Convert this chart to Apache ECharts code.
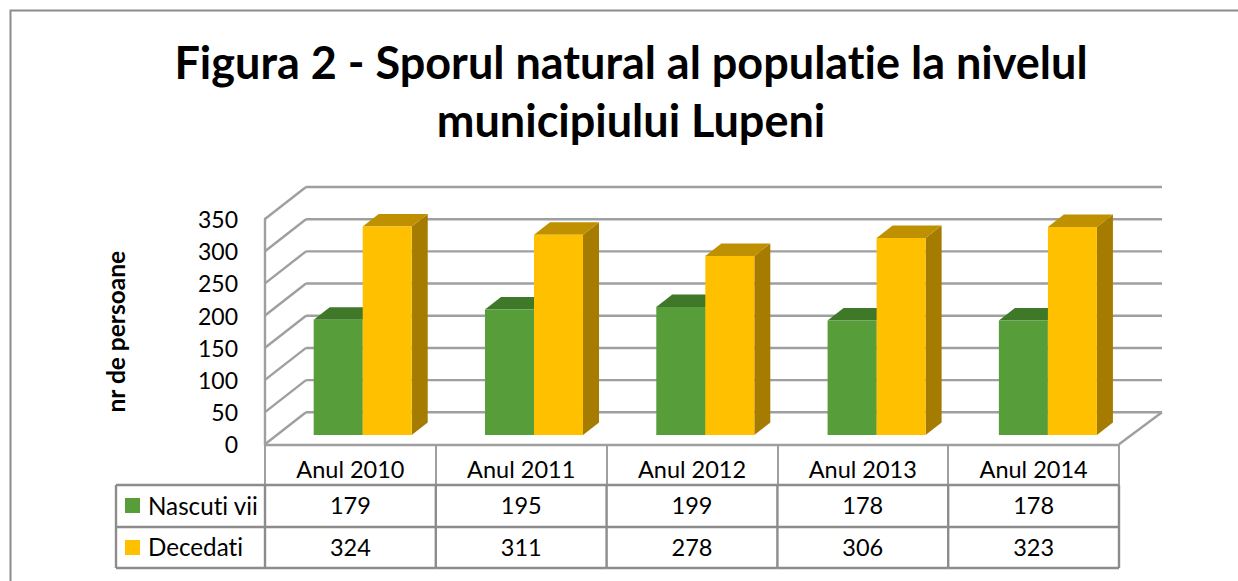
<!DOCTYPE html>
<html>
<head>
<meta charset="utf-8">
<style>
html, body { margin: 0; padding: 0; background: #fff; }
#main { width: 1238px; height: 581px; font-variant-ligatures: none; }
#main text { font-variant-ligatures: none; }
</style>
<script src="https://cdn.jsdelivr.net/npm/echarts@6/dist/echarts.min.js"></script>
</head>
<body>
<div id="main"></div>
<script>
var titlu = "Figura 2 - Sporul natural al populatie la nivelul\nmunicipiului Lupeni";
var ani = ["Anul 2010", "Anul 2011", "Anul 2012", "Anul 2013", "Anul 2014"];
var nascuti = [179, 195, 199, 178, 178];
var decedati = [324, 311, 278, 306, 323];
var yTicks = [0, 50, 100, 150, 200, 250, 300, 350];

var font = "Lato";
var gri = "#9f9f9f";
var griTabel = "#8c8c8c";

// adancimea peretilor si a barelor (pseudo 3D)
var wallDx = 41, wallDy = 32;
var barOffX = 12.3, barOffY = 9.3;
var barDx = 16, barDy = 12.5;
var barLat = 0.287; // din latimea categoriei

// randurile tabelului
var rowY = [485, 527, 568];
var tabelLeft = 116;

function barRender(culori, semn) {
  return function (params, api) {
    var band = api.size([1, 0])[0];
    var w = band * barLat;
    var top = api.coord([api.value(0), api.value(1)]);
    var bottom = api.coord([api.value(0), 0]);
    // barele sunt pe un plan putin mai lat decat axa
    var x0 = top[0] + barOffX + params.dataIndex * 0.5 + (semn < 0 ? -w : 0);
    var x1 = x0 + w;
    var y0 = top[1] - barOffY;
    var y1 = bottom[1] - barOffY;
    return {
      type: "group",
      children: [
        { type: "polygon", shape: { points: [[x1, y0], [x1 + barDx, y0 - barDy], [x1 + barDx, y1 - barDy], [x1, y1]] }, style: { fill: culori[2] } },
        { type: "polygon", shape: { points: [[x0, y0], [x0 + barDx, y0 - barDy], [x1 + barDx, y0 - barDy], [x1, y0]] }, style: { fill: culori[1] } },
        { type: "rect", shape: { x: x0, y: y0, width: w, height: y1 - y0 }, style: { fill: culori[0] } }
      ]
    };
  };
}

function linie(x1, y1, x2, y2, culoare, lat) {
  return { type: "line", shape: { x1: x1, y1: y1, x2: x2, y2: y2 }, style: { stroke: culoare, lineWidth: lat } };
}

function celula(text, x, y, align, marime) {
  return { type: "text", style: { text: text, x: x, y: y, textAlign: align, textVerticalAlign: "middle", fontFamily: font, fontSize: marime, fill: "#000" } };
}

var myChart = echarts.init(document.getElementById("main"), null, { renderer: "svg" });
myChart.setOption({
  animation: false,
  backgroundColor: "#fff",
  title: {
    text: titlu,
    left: 626,
    top: 28,
    textAlign: "center",
    textStyle: { fontFamily: font, fontWeight: "bold", fontSize: 45, lineHeight: 58, color: "#000" }
  },
  graphic: [
    { type: "polyline", silent: true, shape: { points: [[10.5, 581], [10.5, 10.5], [1238, 10.5]] }, style: { stroke: griTabel, lineWidth: 2, fill: null } }
  ],
  grid: { left: 265, top: 219, width: 854, height: 225.3 },
  xAxis: {
    type: "category",
    data: ani,
    axisLine: { show: true, lineStyle: { color: gri, width: 2.4 } },
    axisTick: { show: true, length: 41, lineStyle: { color: gri, width: 2 } },
    axisLabel: { fontFamily: font, fontSize: 23.5, color: "#000", margin: 13 }
  },
  yAxis: {
    type: "value",
    min: 0,
    max: 350,
    interval: 50,
    name: "nr de persoane",
    nameLocation: "middle",
    nameGap: 137,
    nameTextStyle: { fontFamily: font, fontWeight: "bold", fontSize: 24.5, color: "#000" },
    axisLine: { show: true, lineStyle: { color: gri, width: 2.4 } },
    axisTick: { show: false },
    axisLabel: { fontFamily: font, fontSize: 23, color: "#000", margin: 27 },
    splitLine: { show: false }
  },
  series: [
    {
      type: "custom",
      name: "grila",
      silent: true,
      z: 1,
      data: yTicks.map(function (t) { return [0, t]; }),
      renderItem: function (params, api) {
        var a = api.coord([0, api.value(1)]);
        var band = api.size([1, 0])[0];
        var x0 = a[0] - band / 2;
        var x1 = x0 + band * ani.length;
        var kids = [
          linie(x0, a[1], x0 + wallDx, a[1] - wallDy, gri, 2.4),
          linie(x0 + wallDx, a[1] - wallDy, x1 + wallDx + 2, a[1] - wallDy, gri, 2.4)
        ];
        if (api.value(1) === 0) {
          kids.push(linie(x1, a[1], x1 + wallDx + 2, a[1] - wallDy, gri, 2.4));
        }
        return { type: "group", children: kids };
      }
    },
    {
      type: "custom",
      name: "Nascuti vii",
      silent: true,
      z: 2,
      data: ani.map(function (a, i) { return [i, nascuti[i]]; }),
      renderItem: barRender(["#579d3a", "#3f7829", "#3f7829"], -1)
    },
    {
      type: "custom",
      name: "Decedati",
      silent: true,
      z: 3,
      data: ani.map(function (a, i) { return [i, decedati[i]]; }),
      renderItem: barRender(["#ffc000", "#bf9000", "#a67c00"], 1)
    },
    {
      type: "custom",
      name: "tabel",
      silent: true,
      z: 4,
      data: ani.map(function (a, i) { return [i, nascuti[i], decedati[i]]; }),
      renderItem: function (params, api) {
        var i = api.value(0);
        var c = api.coord([i, 0]);
        var band = api.size([1, 0])[0];
        var x0 = c[0] - band / 2;
        var x1 = c[0] + band / 2;
        var yA = (rowY[0] + rowY[1]) / 2 - 1;
        var yB = (rowY[1] + rowY[2]) / 2 - 1;
        var kids = [
          celula(String(api.value(1)), c[0], yA, "center", 23.5),
          celula(String(api.value(2)), c[0], yB, "center", 23.5),
          linie(x1, rowY[0], x1, rowY[2], griTabel, 2.4)
        ];
        rowY.forEach(function (y) {
          kids.push(linie(x0, y, x1, y, griTabel, 2.4));
        });
        if (i === 0) {
          kids.push(linie(x0, rowY[0], x0, rowY[2], griTabel, 2.4));
          kids.push(linie(tabelLeft, rowY[0], tabelLeft, rowY[2], griTabel, 2.4));
          rowY.forEach(function (y) {
            kids.push(linie(tabelLeft, y, x0, y, griTabel, 2.4));
          });
          kids.push({ type: "rect", shape: { x: 125, y: 498, width: 15, height: 15 }, style: { fill: "#579d3a" } });
          kids.push({ type: "rect", shape: { x: 125, y: 540, width: 15, height: 15 }, style: { fill: "#ffc000" } });
          kids.push(celula("Nascuti vii", 148, yA, "left", 24.2));
          kids.push(celula("Decedati", 148, yB, "left", 24.2));
        }
        return { type: "group", children: kids };
      }
    }
  ]
});
</script>
</body>
</html>
